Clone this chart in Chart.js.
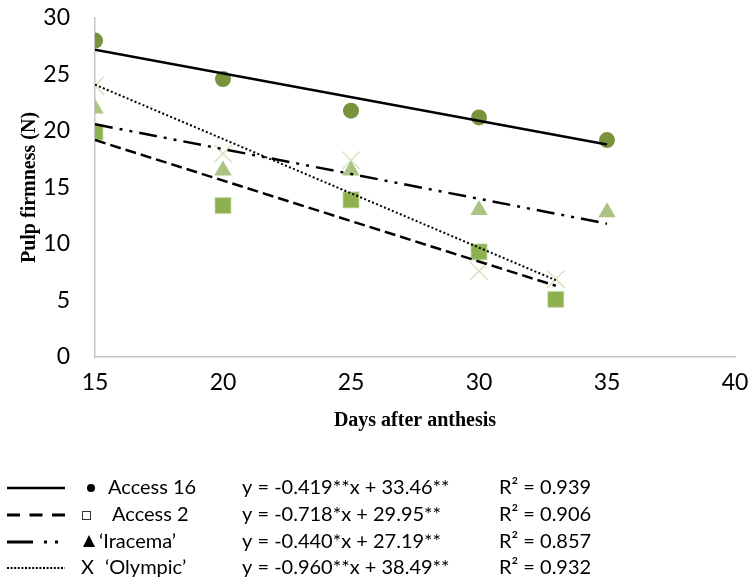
<!DOCTYPE html>
<html>
<head>
<meta charset="utf-8">
<script src="https://cdn.jsdelivr.net/npm/chart.js@4"></script>
<style>
  html, body { margin: 0; padding: 0; background: #ffffff; }
  #wrap { width: 749px; height: 580px; }
</style>
</head>
<body>
<div id="wrap"><canvas id="c" width="749" height="580"></canvas></div>
<script>
// ---- data ----
const daysA = [15, 20, 25, 30, 35];          // Access 16, 'Iracema'
const daysB = [15, 20, 25, 30, 33];          // Access 2, 'Olympic'
const access16 = [28.0, 24.6, 21.8, 21.2, 19.2];
const access2  = [19.9, 13.4, 13.9, 9.3, 5.1];
const iracema  = [22.0, 16.5, 16.5, 13.0, 12.8];
const olympic  = [24.0, 18.0, 17.4, 7.6, 6.9];

// trend line end points (x, y)
const trendXA = [15, 35];
const trendXB = [15, 33];
const access16Trend = [27.2, 18.8];
const access2Trend  = [19.2, 6.3];
const iracemaTrend  = [20.6, 11.8];
const olympicTrend  = [24.1, 6.8];

const yTicks = [0, 5, 10, 15, 20, 25, 30];
const xTicks = [15, 20, 25, 30, 35, 40];

const seriesNames = ['Access 16', 'Access 2', '\u2018Iracema\u2019', '\u2018Olympic\u2019'];
const equations = [
  'y = -0.419**x + 33.46**',
  'y = -0.718*x + 29.95**',
  'y = -0.440*x + 27.19**',
  'y = -0.960**x + 38.49**'
];
const r2Labels = ['R\u00B2 = 0.939', 'R\u00B2 = 0.906', 'R\u00B2 = 0.857', 'R\u00B2 = 0.932'];

const pts = (xs, ys) => xs.map((x, i) => ({x: x, y: ys[i]}));

const trendStyle = (dash, w) => ({
  type: 'line', borderColor: '#000000', borderWidth: w, borderDash: dash,
  pointRadius: 0, fill: false, tension: 0, order: 0, borderCapStyle: 'butt'
});

const zeroPad = (s) => { s.paddingTop = 0; s.paddingBottom = 0; s.paddingLeft = 0; s.paddingRight = 0; };

const legendPlugin = {
  id: 'customLegend',
  afterDraw(chart) {
    const ctx = chart.ctx;
    ctx.save();
    const rows = [488, 515, 542, 568];
    ctx.strokeStyle = '#000'; ctx.fillStyle = '#000';
    // row 1 solid
    ctx.lineWidth = 2.5; ctx.setLineDash([]);
    ctx.beginPath(); ctx.moveTo(7, rows[0]); ctx.lineTo(65, rows[0]); ctx.stroke();
    // row 2 dashed
    ctx.lineWidth = 3;
    ctx.setLineDash([13, 9.5]);
    ctx.beginPath(); ctx.moveTo(7, rows[1]); ctx.lineTo(65, rows[1]); ctx.stroke();
    // row 3 dash dot dot
    ctx.setLineDash([]);
    ctx.beginPath(); ctx.moveTo(7, rows[2]); ctx.lineTo(33, rows[2]); ctx.stroke();
    ctx.fillRect(44, rows[2] - 1.5, 3, 3);
    ctx.fillRect(55, rows[2] - 1.5, 3, 3);
    // row 4 dotted
    ctx.lineWidth = 2; ctx.setLineDash([2, 1.6]);
    ctx.beginPath(); ctx.moveTo(7, rows[3]); ctx.lineTo(65, rows[3]); ctx.stroke();
    ctx.setLineDash([]);
    // symbols
    ctx.beginPath(); ctx.arc(91, rows[0], 4, 0, Math.PI * 2); ctx.fill();
    ctx.lineWidth = 1; ctx.strokeStyle = '#333';
    ctx.strokeRect(82.5, rows[1] - 3.5, 8, 8);
    ctx.beginPath(); ctx.moveTo(89, rows[2] - 7); ctx.lineTo(95, rows[2] + 5); ctx.lineTo(83, rows[2] + 5); ctx.closePath(); ctx.fill();
    // texts
    ctx.font = '20px Lato, "Open Sans", sans-serif';
    ctx.textBaseline = 'middle';
    ctx.textAlign = 'left';
    ctx.fillStyle = '#000';
    ctx.fillText('X', 81, rows[3]);
    const nameX = [108, 112, 99, 105];
    for (let i = 0; i < 4; i++) {
      ctx.fillText(seriesNames[i], nameX[i], rows[i]);
      ctx.fillText(equations[i], 242, rows[i]);
      ctx.fillText(r2Labels[i], 499, rows[i]);
    }
    ctx.restore();
  }
};

const chart = new Chart(document.getElementById('c'), {
  type: 'scatter',
  data: {
    datasets: [
      Object.assign({label: 'Access 16 trend', data: pts(trendXA, access16Trend)}, trendStyle([], 2.5)),
      Object.assign({label: 'Access 2 trend', data: pts(trendXB, access2Trend)}, trendStyle([11, 5], 2.5)),
      Object.assign({label: 'Iracema trend', data: pts(trendXA, iracemaTrend)}, trendStyle([18, 7, 3, 7, 3, 7], 2.5)),
      Object.assign({label: 'Olympic trend', data: pts(trendXB, olympicTrend)}, trendStyle([2, 2.3], 2)),
      { label: seriesNames[0], data: pts(daysA, access16), pointStyle: 'circle', pointRadius: 8,
        backgroundColor: '#77933C', borderColor: '#77933C', borderWidth: 0, order: 1 },
      { label: seriesNames[1], data: pts(daysB, access2), pointStyle: 'rect', pointRadius: 11.3,
        backgroundColor: '#8FB04F', borderColor: '#C9DBA8', borderWidth: 0.8, order: 1 },
      { label: seriesNames[2], data: pts(daysA, iracema), pointStyle: 'triangle', pointRadius: 10,
        backgroundColor: '#A9C583', borderColor: '#A9C583', borderWidth: 0, order: 1 },
      { label: seriesNames[3], data: pts(daysB, olympic), pointStyle: 'crossRot', pointRadius: 12.5,
        backgroundColor: '#D9E3C2', borderColor: '#D9E3C2', borderWidth: 1.5, order: 1 }
    ]
  },
  options: {
    responsive: false,
    animation: false,
    events: [],
    layout: { padding: { left: 0, right: 12, top: 18, bottom: 143 } },
    plugins: { legend: { display: false }, tooltip: { enabled: false } },
    scales: {
      x: {
        type: 'linear', min: 15, max: 40,
        afterBuildTicks: (s) => { s.ticks = xTicks.map(v => ({value: v})); },
        afterFit: (s) => { s.height = 80; zeroPad(s); },
        grid: { display: false, drawTicks: false },
        border: { display: true, color: '#C6C6C6', width: 1.5 },
        ticks: { color: '#000', font: { family: 'Lato', size: 23 }, padding: 12, maxRotation: 0 },
        title: { display: true, text: 'Days after anthesis', color: '#000',
                 font: { family: '"Liberation Serif", serif', size: 20, weight: 'bold' },
                 padding: { top: 4, bottom: 4 } }
      },
      y: {
        type: 'linear', min: 0, max: 30,
        afterBuildTicks: (s) => { s.ticks = yTicks.map(v => ({value: v})); },
        afterFit: (s) => { s.width = 95; zeroPad(s); },
        grid: { display: false, drawTicks: false },
        border: { display: true, color: '#C6C6C6', width: 1.5 },
        ticks: { color: '#000', font: { family: 'Lato', size: 23 }, padding: 25 },
        title: { display: true, text: 'Pulp firmness (N)', color: '#000',
                 font: { family: '"Liberation Serif", serif', size: 20, weight: 'bold' },
                 padding: { top: 18, bottom: 4 } }
      }
    }
  },
  plugins: [legendPlugin]
});
</script>
</body>
</html>
